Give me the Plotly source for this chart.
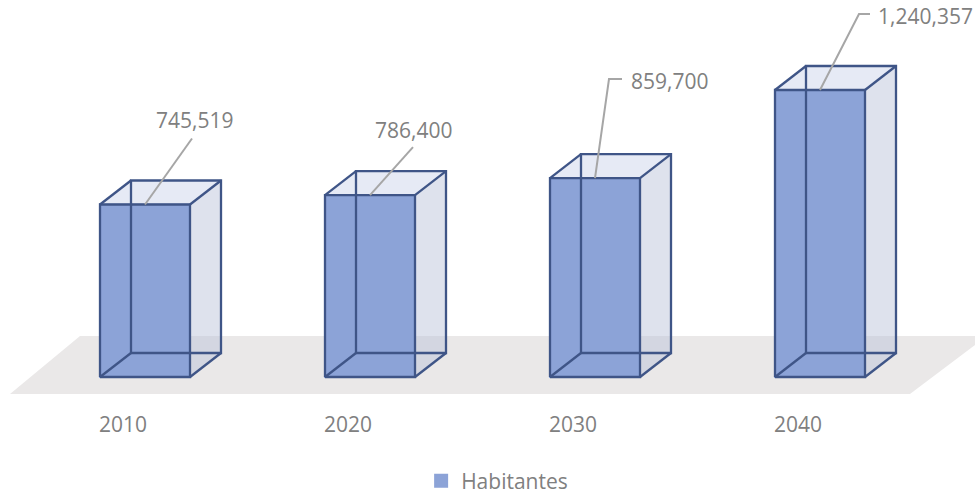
import plotly.graph_objects as go

# Population by census / projection year
years = ["2010", "2020", "2030", "2040"]
habitantes = [745519, 786400, 859700, 1240357]
series_name = "Habitantes"

# Scale and drawing constants
WIDTH, HEIGHT = 975, 496
PX_PER_CAT = 225.0
UNITS_PER_PX = 4322.0
BASE_PX = 377
AXIS_PX = 410
FIRST_CENTER_PX = 145
TICK_SHIFT_PX = -22
BAR_W = 90 / PX_PER_CAT
DX = 31 / PX_PER_CAT
DY = 24 * UNITS_PER_PX

FRONT = "#8CA3D7"
EDGE = "#3F5587"
GHOST = "rgba(185,194,218,0.48)"
ROOF = "rgba(205,214,236,0.5)"
TEXT = "#808080"
LEADER = "#A6A6A6"
FLOOR = "#EAE8E8"
FONT = "Open Sans"
FONT_SIZE = 21

xs = list(range(len(years)))


def px_x(dx):
    return dx / PX_PER_CAT


def px_y(dy):
    return dy * UNITS_PER_PX


fig = go.Figure()

# Front faces of the boxes
fig.add_trace(go.Bar(
    x=xs, y=habitantes, width=BAR_W, name=series_name,
    marker=dict(color=FRONT, line=dict(width=2, color=FRONT)),
    showlegend=True,
))

# Side and roof faces, then the wireframe, all derived from each value
for x, v in zip(xs, habitantes):
    l, r = x - BAR_W / 2, x + BAR_W / 2
    fig.add_trace(go.Scatter(
        x=[r, r + DX, r + DX, r, r], y=[v, v + DY, DY, 0, v],
        mode="lines", fill="toself", fillcolor=GHOST,
        line=dict(width=0), hoverinfo="skip", showlegend=False,
    ))
    fig.add_trace(go.Scatter(
        x=[l, l + DX, r + DX, r, l], y=[v, v + DY, v + DY, v, v],
        mode="lines", fill="toself", fillcolor=ROOF,
        line=dict(width=0), hoverinfo="skip", showlegend=False,
    ))
    ex = [l, r, r, l, l, None,
          l + DX, r + DX, r + DX, l + DX, l + DX, None,
          l, l + DX, None, r, r + DX, None,
          r, r + DX, None, l, l + DX]
    ey = [0, 0, v, v, 0, None,
          DY, DY, v + DY, v + DY, DY, None,
          v, v + DY, None, v, v + DY, None,
          0, DY, None, 0, DY]
    fig.add_trace(go.Scatter(
        x=ex, y=ey, mode="lines", line=dict(color=EDGE, width=2.3),
        hoverinfo="skip", showlegend=False,
    ))

# Leader lines and value labels: offsets in pixels from the top of each front face
leader_paths = [
    [(0, 0), (47, 66)],
    [(0, 0), (43, 48)],
    [(0, 0), (14, 99), (27, 99)],
    [(0, 0), (39, 76), (50, 76)],
]
label_offsets = [(49, 85), (43, 65), (74, 97), (105, 74)]

for x, v, path, (ox, oy) in zip(xs, habitantes, leader_paths, label_offsets):
    fig.add_trace(go.Scatter(
        x=[x + px_x(p[0]) for p in path],
        y=[v + px_y(p[1]) for p in path],
        mode="lines", line=dict(color=LEADER, width=2),
        hoverinfo="skip", showlegend=False,
    ))
    fig.add_annotation(
        x=x, y=v, xref="x", yref="y", text=f"{v:,}", showarrow=False,
        xshift=ox, yshift=oy, xanchor="center", yanchor="middle",
        font=dict(family=FONT, size=FONT_SIZE, color=TEXT),
    )

# Ground plane under the boxes
fx0 = -FIRST_CENTER_PX / PX_PER_CAT
floor_pts = [
    (fx0 + px_x(10), px_y(BASE_PX - 394)),
    (fx0 + px_x(80), px_y(BASE_PX - 336)),
    (fx0 + px_x(975), px_y(BASE_PX - 336)),
    (fx0 + px_x(975), px_y(BASE_PX - 345)),
    (fx0 + px_x(910), px_y(BASE_PX - 394)),
]
floor_path = "M " + " L ".join(f"{a},{b}" for a, b in floor_pts) + " Z"
fig.add_shape(type="path", path=floor_path, xref="x", yref="y",
              fillcolor=FLOOR, line=dict(width=0), layer="below")

fig.update_layout(
    width=WIDTH, height=HEIGHT,
    margin=dict(l=0, r=0, t=0, b=0, autoexpand=False),
    paper_bgcolor="white", plot_bgcolor="rgba(0,0,0,0)",
    font=dict(family=FONT, color=TEXT, size=FONT_SIZE),
    hovermode=False,
    xaxis=dict(
        range=[fx0, fx0 + WIDTH / PX_PER_CAT],
        tickmode="array",
        tickvals=[x + px_x(TICK_SHIFT_PX) for x in xs],
        ticktext=years,
        showgrid=False, zeroline=False, showline=False, ticks="",
        tickfont=dict(family=FONT, size=FONT_SIZE, color=TEXT),
        fixedrange=True,
    ),
    yaxis=dict(
        domain=[(HEIGHT - AXIS_PX) / HEIGHT, 1],
        range=[px_y(BASE_PX - AXIS_PX), px_y(BASE_PX)],
        visible=False, fixedrange=True,
    ),
    legend=dict(
        orientation="h", x=0.515, xanchor="center",
        y=(HEIGHT - 481) / HEIGHT, yanchor="middle",
        font=dict(family=FONT, size=FONT_SIZE, color=TEXT),
        bgcolor="rgba(0,0,0,0)",
        indentation=-10,
    ),
    showlegend=True,
)

fig.write_html("out.html", config={"displayModeBar": False})
